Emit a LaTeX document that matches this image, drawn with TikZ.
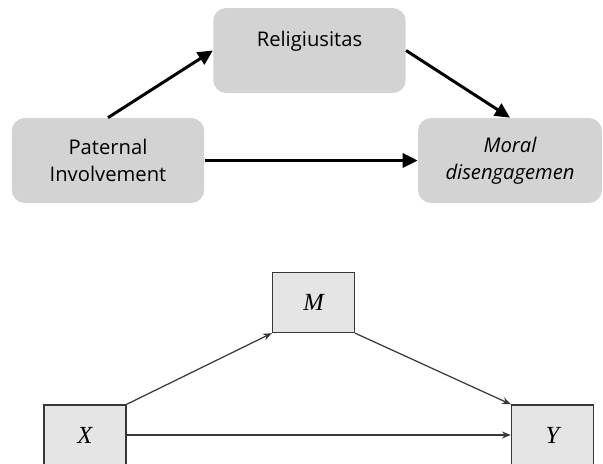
\documentclass[tikz,border=0pt]{standalone}
\usepackage{fontspec}
\setmainfont{Liberation Serif}
\newfontfamily\fuentecaja{Open Sans}
\usetikzlibrary{arrows.meta}
\definecolor{grisoscuro}{RGB}{211,211,211}
\definecolor{grisclaro}{RGB}{229,229,229}
\definecolor{borde}{RGB}{55,55,55}

\begin{document}
\begin{tikzpicture}[x=0.02cm, y=-0.02cm,
    cajaredonda/.style={fill=grisoscuro, rounded corners=0.26cm, minimum width=3.85cm, minimum height=1.7cm, inner sep=0pt},
    textocaja/.style={font=\fuentecaja\fontsize{11.5}{15.3}\selectfont, align=center},
    flechagruesa/.style={line width=1.7pt, -{Triangle[length=8.5pt, width=8pt]}},
    cajacuadrada/.style={draw=borde, fill=grisclaro, line width=0.8pt, minimum width=1.64cm, minimum height=1.2cm, inner sep=0pt, font=\fontsize{14}{16}\selectfont\itshape},
    flechafina/.style={draw=borde, line width=0.7pt, -{Stealth[length=5pt, width=4pt]}}]
        \useasboundingbox (0,0) rectangle (603,464);
        \clip (0,0) rectangle (603,464);

        % Modelo de arriba (con nombres de las variables)
        \node[cajaredonda] (rel) at (309.5,50.5) {};
        \node[textocaja] (reltxt) at (309.5,41) {Religiusitas};
        \node[cajaredonda, textocaja] (pat) at (108,160.5) {Paternal\\Involvement};
        \node[cajaredonda, textocaja, minimum width=3.68cm] (mor) at (510,160.5) {\itshape Moral\\\itshape disengagemen};

        % Flechas del modelo de arriba
        \draw[flechagruesa] (pat.north) -- (rel.west);
        \draw[flechagruesa] (rel.east) -- (mor.north);
        \draw[flechagruesa] (pat.east) -- (mor.west);

        % Modelo de abajo (X, M, Y)
        \node[cajacuadrada] (m) at (313.5,302.5) {M};
        \node[cajacuadrada] (x) at (85,435) {X};
        \node[cajacuadrada] (y) at (552.5,435) {Y};

        % Flechas del modelo de abajo
        \draw[flechafina] (x.north east) -- (m.south west);
        \draw[flechafina] (m.south east) -- (y.north west);
        \draw[flechafina] (x.east) -- (y.west);
    \end{tikzpicture}
\end{document}
